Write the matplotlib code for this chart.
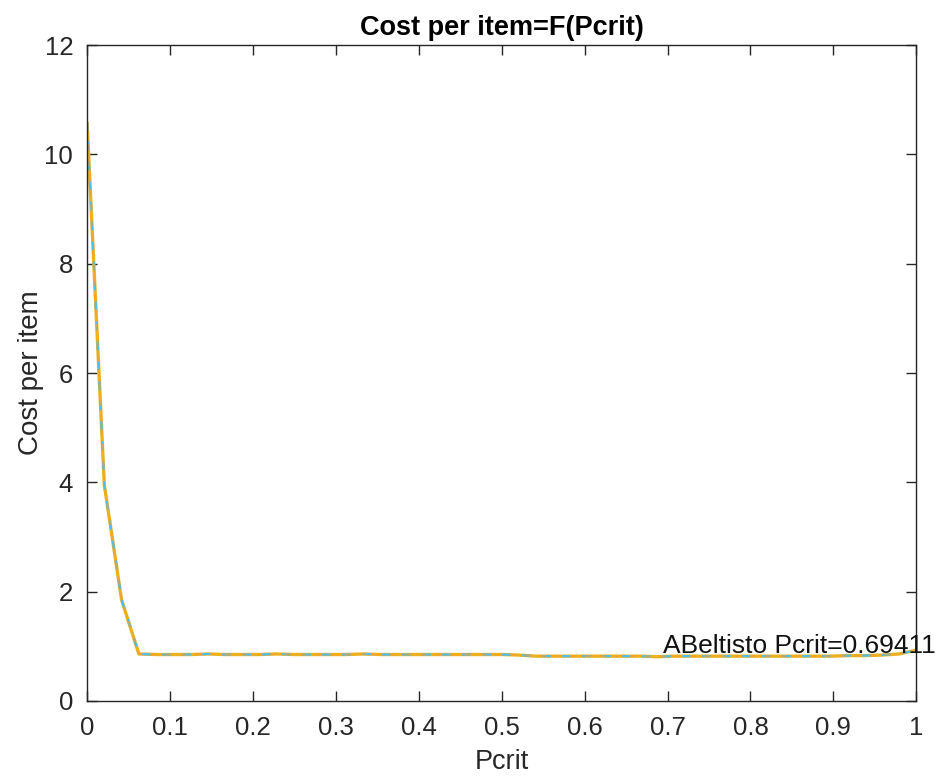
import matplotlib
matplotlib.use("Agg")
import matplotlib.pyplot as plt
import numpy as np

# ---------------------------------------------------------------------------
# Data
# ---------------------------------------------------------------------------

pcrit = np.arange(49) / 48.0
cost = [
    10.60, 3.95, 1.85, 0.86, 0.85, 0.85, 0.85, 0.86, 0.85, 0.85,
    0.85, 0.86, 0.85, 0.85, 0.85, 0.85, 0.86, 0.85, 0.85, 0.85,
    0.85, 0.85, 0.85, 0.85, 0.85, 0.84, 0.82, 0.82, 0.82, 0.82,
    0.82, 0.82, 0.82, 0.81, 0.82, 0.82, 0.82, 0.82, 0.82, 0.82,
    0.82, 0.82, 0.82, 0.82, 0.83, 0.83, 0.84, 0.86, 0.93,
]
best_pcrit = 0.69411
annot = f"ABeltisto Pcrit={best_pcrit}"

x_ticks = [0, 0.1, 0.2, 0.3, 0.4, 0.5, 0.6, 0.7, 0.8, 0.9, 1]
x_ticklabels = ["0", "0.1", "0.2", "0.3", "0.4", "0.5", "0.6", "0.7", "0.8", "0.9", "1"]
y_ticks = [0, 2, 4, 6, 8, 10, 12]

# ---------------------------------------------------------------------------
# Plot
# ---------------------------------------------------------------------------

plt.rcParams["font.family"] = ["Liberation Sans", "DejaVu Sans"]

fig = plt.figure(figsize=(9.36, 7.78), dpi=100)
ax = fig.add_axes([0.093, 0.099, 0.886, 0.843])

ax.plot(pcrit, cost, color="#EDB120", linewidth=2.4, solid_capstyle="butt")
ax.plot(pcrit, cost, color="#4DBEEE", linewidth=1.6, linestyle=(0, (4, 5)))
ax.plot(pcrit, cost, color="#F0A030", linewidth=1.2, linestyle=(4.5, (4, 5)), alpha=0.7)

# annotation is allowed to run past the right edge, as in the source figure
ax.text(best_pcrit, 0.78, annot, fontsize=19, va="bottom", ha="left",
        color="#111111", clip_on=False)

ax.set_xlim(0, 1)
ax.set_ylim(0, 12)
ax.set_xticks(x_ticks)
ax.set_xticklabels(x_ticklabels)
ax.set_yticks(y_ticks)
ax.tick_params(direction="in", length=7, width=1, colors="#262626",
               labelsize=18.5, top=True, right=True)
ax.tick_params(axis="x", pad=11)
ax.tick_params(axis="y", pad=10)
for sp in ax.spines.values():
    sp.set_color("#262626")
    sp.set_linewidth(1.0)

ax.set_xlabel("Pcrit", fontsize=19.5, color="#262626", labelpad=6)
ax.set_ylabel("Cost per item", fontsize=20, color="#262626", labelpad=0)
ax.set_title("Cost per item=F(Pcrit)", fontsize=19.5, fontweight="bold", pad=7)

fig.savefig("out.png", dpi=100)
